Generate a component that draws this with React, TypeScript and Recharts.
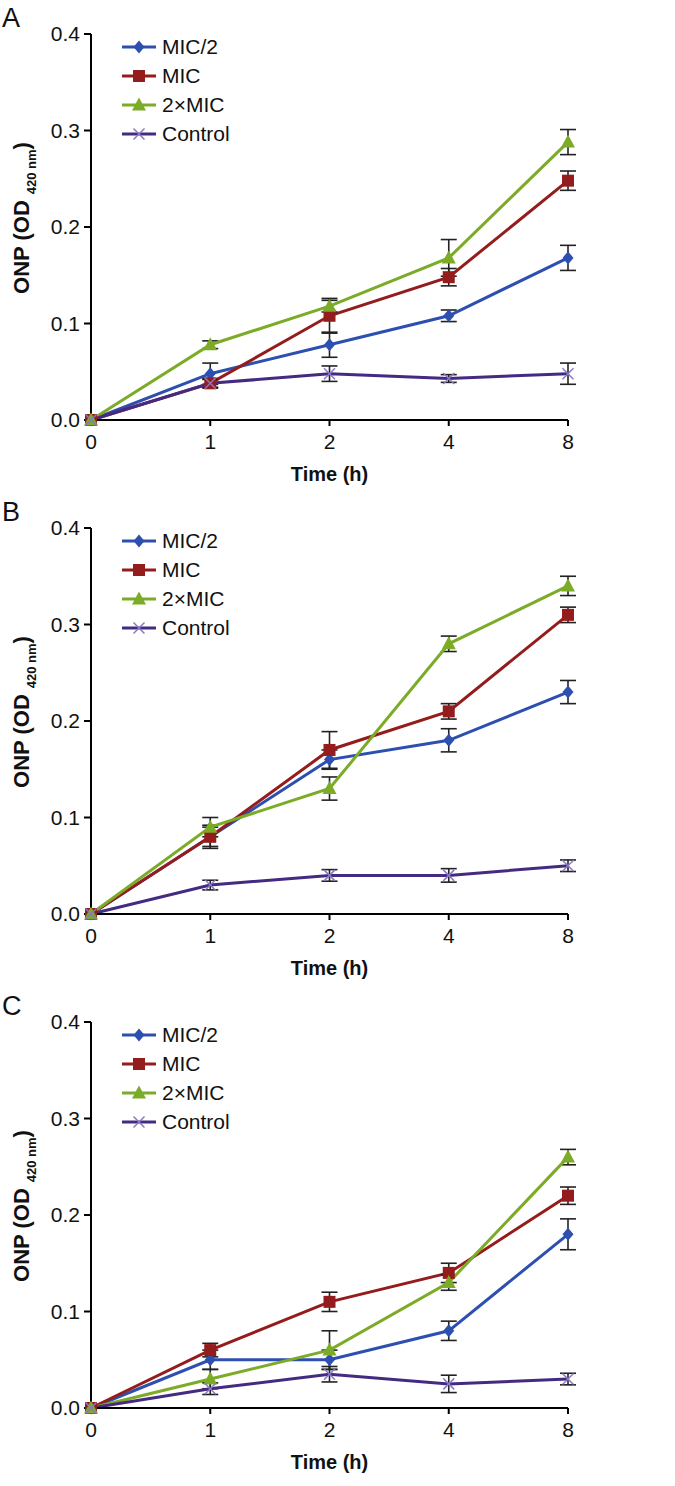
import { LineChart, Line, XAxis, YAxis, ErrorBar } from 'recharts'

const FONT = '"Liberation Sans", Arial, sans-serif'
const BLUE = '#2c4fb0'
const RED = '#941c1c'
const GREEN = '#7bab27'
const PURPLE = '#452a82'
const XCOL = '#8a78c4'

const times = ['0', '1', '2', '4', '8']
const yTicks = [0, 0.1, 0.2, 0.3, 0.4]
const seriesNames = ['MIC/2', 'MIC', '2×MIC', 'Control']

// panel A
const aMic2 = [0, 0.048, 0.078, 0.108, 0.168]
const aMic2Err = [0, 0.011, 0.013, 0.006, 0.013]
const aMic = [0, 0.038, 0.108, 0.148, 0.248]
const aMicErr = [0, 0.005, 0.018, 0.009, 0.01]
const a2Mic = [0, 0.078, 0.118, 0.168, 0.288]
const a2MicErr = [0, 0.004, 0.006, 0.019, 0.013]
const aCtrl = [0, 0.038, 0.048, 0.043, 0.048]
const aCtrlErr = [0, 0.004, 0.008, 0.004, 0.011]

// panel B
const bMic2 = [0, 0.08, 0.16, 0.18, 0.23]
const bMic2Err = [0, 0.01, 0.01, 0.012, 0.012]
const bMic = [0, 0.08, 0.17, 0.21, 0.31]
const bMicErr = [0, 0.012, 0.019, 0.008, 0.008]
const b2Mic = [0, 0.09, 0.13, 0.28, 0.34]
const b2MicErr = [0, 0.01, 0.012, 0.008, 0.01]
const bCtrl = [0, 0.03, 0.04, 0.04, 0.05]
const bCtrlErr = [0, 0.005, 0.006, 0.007, 0.006]

// panel C
const cMic2 = [0, 0.05, 0.05, 0.08, 0.18]
const cMic2Err = [0, 0.01, 0.01, 0.01, 0.016]
const cMic = [0, 0.06, 0.11, 0.14, 0.22]
const cMicErr = [0, 0.007, 0.01, 0.01, 0.009]
const c2Mic = [0, 0.03, 0.06, 0.13, 0.26]
const c2MicErr = [0, 0.01, 0.02, 0.008, 0.008]
const cCtrl = [0, 0.02, 0.035, 0.025, 0.03]
const cCtrlErr = [0, 0.006, 0.008, 0.009, 0.006]

function rows(m2: number[], m2e: number[], m: number[], me: number[], x2: number[], x2e: number[], c: number[], ce: number[]) {
  return times.map((t, i) => ({
    time: t,
    mic2: m2[i], mic2Err: m2e[i],
    mic: m[i], micErr: me[i],
    mic2x: x2[i], mic2xErr: x2e[i],
    ctrl: c[i], ctrlErr: ce[i],
  }))
}

const panels = [
  { letter: 'A', data: rows(aMic2, aMic2Err, aMic, aMicErr, a2Mic, a2MicErr, aCtrl, aCtrlErr) },
  { letter: 'B', data: rows(bMic2, bMic2Err, bMic, bMicErr, b2Mic, b2MicErr, bCtrl, bCtrlErr) },
  { letter: 'C', data: rows(cMic2, cMic2Err, cMic, cMicErr, c2Mic, c2MicErr, cCtrl, cCtrlErr) },
]

type Shape = 'diamond' | 'square' | 'triangle' | 'x'

function Marker({ cx, cy, shape, color }: { cx: number; cy: number; shape: Shape; color: string }) {
  if (shape === 'diamond') return <path d={`M${cx},${cy - 6.5}L${cx + 5.5},${cy}L${cx},${cy + 6.5}L${cx - 5.5},${cy}Z`} fill={color} />
  if (shape === 'square') return <rect x={cx - 6} y={cy - 6} width={12} height={12} fill={color} />
  if (shape === 'triangle') return <path d={`M${cx},${cy - 7.5}L${cx + 7},${cy + 5.5}L${cx - 7},${cy + 5.5}Z`} fill={color} />
  return (
    <g stroke={XCOL} strokeWidth={1.5}>
      <line x1={cx - 5.5} y1={cy - 5.5} x2={cx + 5.5} y2={cy + 5.5} />
      <line x1={cx - 5.5} y1={cy + 5.5} x2={cx + 5.5} y2={cy - 5.5} />
    </g>
  )
}

const SERIES: { key: string; color: string; shape: Shape }[] = [
  { key: 'mic2', color: BLUE, shape: 'diamond' },
  { key: 'mic', color: RED, shape: 'square' },
  { key: 'mic2x', color: GREEN, shape: 'triangle' },
  { key: 'ctrl', color: PURPLE, shape: 'x' },
]

function LegendBox() {
  return (
    <div style={{ position: 'absolute', left: 120, top: 33, fontFamily: FONT, fontSize: 21, color: '#111' }}>
      {SERIES.map((s, i) => (
        <div key={s.key} style={{ display: 'flex', alignItems: 'center', height: 28.8 }}>
          <svg width={40} height={20} style={{ display: 'block' }}>
            <line x1={2} y1={10} x2={36} y2={10} stroke={s.color} strokeWidth={3} />
            <Marker cx={19} cy={10} shape={s.shape} color={s.color} />
          </svg>
          <span style={{ marginLeft: 2 }}>{seriesNames[i]}</span>
        </div>
      ))}
    </div>
  )
}

function Panel({ letter, data }: { letter: string; data: Record<string, unknown>[] }) {
  return (
    <div style={{ position: 'relative', width: 675, height: 494 }}>
      <LineChart width={675} height={494} data={data} margin={{ top: 34, right: 107, bottom: 4, left: 0 }}>
        <XAxis dataKey="time" interval={0} height={70} tickSize={6} tickMargin={8}
          axisLine={{ stroke: '#000', strokeWidth: 2 }} tickLine={{ stroke: '#000', strokeWidth: 2 }}
          tick={{ fill: '#111', fontSize: 21, fontFamily: FONT }}
          label={{ value: 'Time (h)', position: 'insideBottom', offset: 9, fill: '#111', fontSize: 20, fontWeight: 'bold', fontFamily: FONT }} />
        <YAxis type="number" domain={[0, 0.4]} ticks={yTicks} width={91} tickSize={7} tickMargin={4}
          tickFormatter={(v: number) => v.toFixed(1)}
          axisLine={{ stroke: '#000', strokeWidth: 2 }} tickLine={{ stroke: '#000', strokeWidth: 2 }}
          tick={{ fill: '#111', fontSize: 21, fontFamily: FONT }} />
        {SERIES.map(s => (
          <Line key={s.key} dataKey={s.key} stroke={s.color} strokeWidth={3} isAnimationActive={false} activeDot={false}
            dot={(p: any) => <Marker key={`${s.key}-${p.index}`} cx={p.cx} cy={p.cy} shape={s.shape} color={s.color} />}>
            <ErrorBar dataKey={`${s.key}Err`} width={8} stroke="#222" strokeWidth={1.6} direction="y" isAnimationActive={false} />
          </Line>
        ))}
      </LineChart>
      <svg width={60} height={494} style={{ position: 'absolute', left: 0, top: 0 }}>
        <text x={2} y={27} fontSize={27} fontFamily={FONT} fill="#111">{letter}</text>
        <text transform="rotate(-90, 29, 218)" x={29} y={218} textAnchor="middle" fontFamily={FONT} fill="#111">
          <tspan fontSize={22} fontWeight="bold">ONP (OD</tspan>
          <tspan fontSize={13} fontWeight="bold" dx={6} dy={7}>420 nm</tspan>
          <tspan fontSize={22} fontWeight="bold" dy={-7}>)</tspan>
        </text>
      </svg>
      <LegendBox />
    </div>
  )
}

export default function App() {
  return (
    <div style={{ position: 'absolute', left: 0, top: 0, width: 675, height: 1486, background: '#fff' }}>
      {panels.map(p => <Panel key={p.letter} letter={p.letter} data={p.data} />)}
    </div>
  )
}
